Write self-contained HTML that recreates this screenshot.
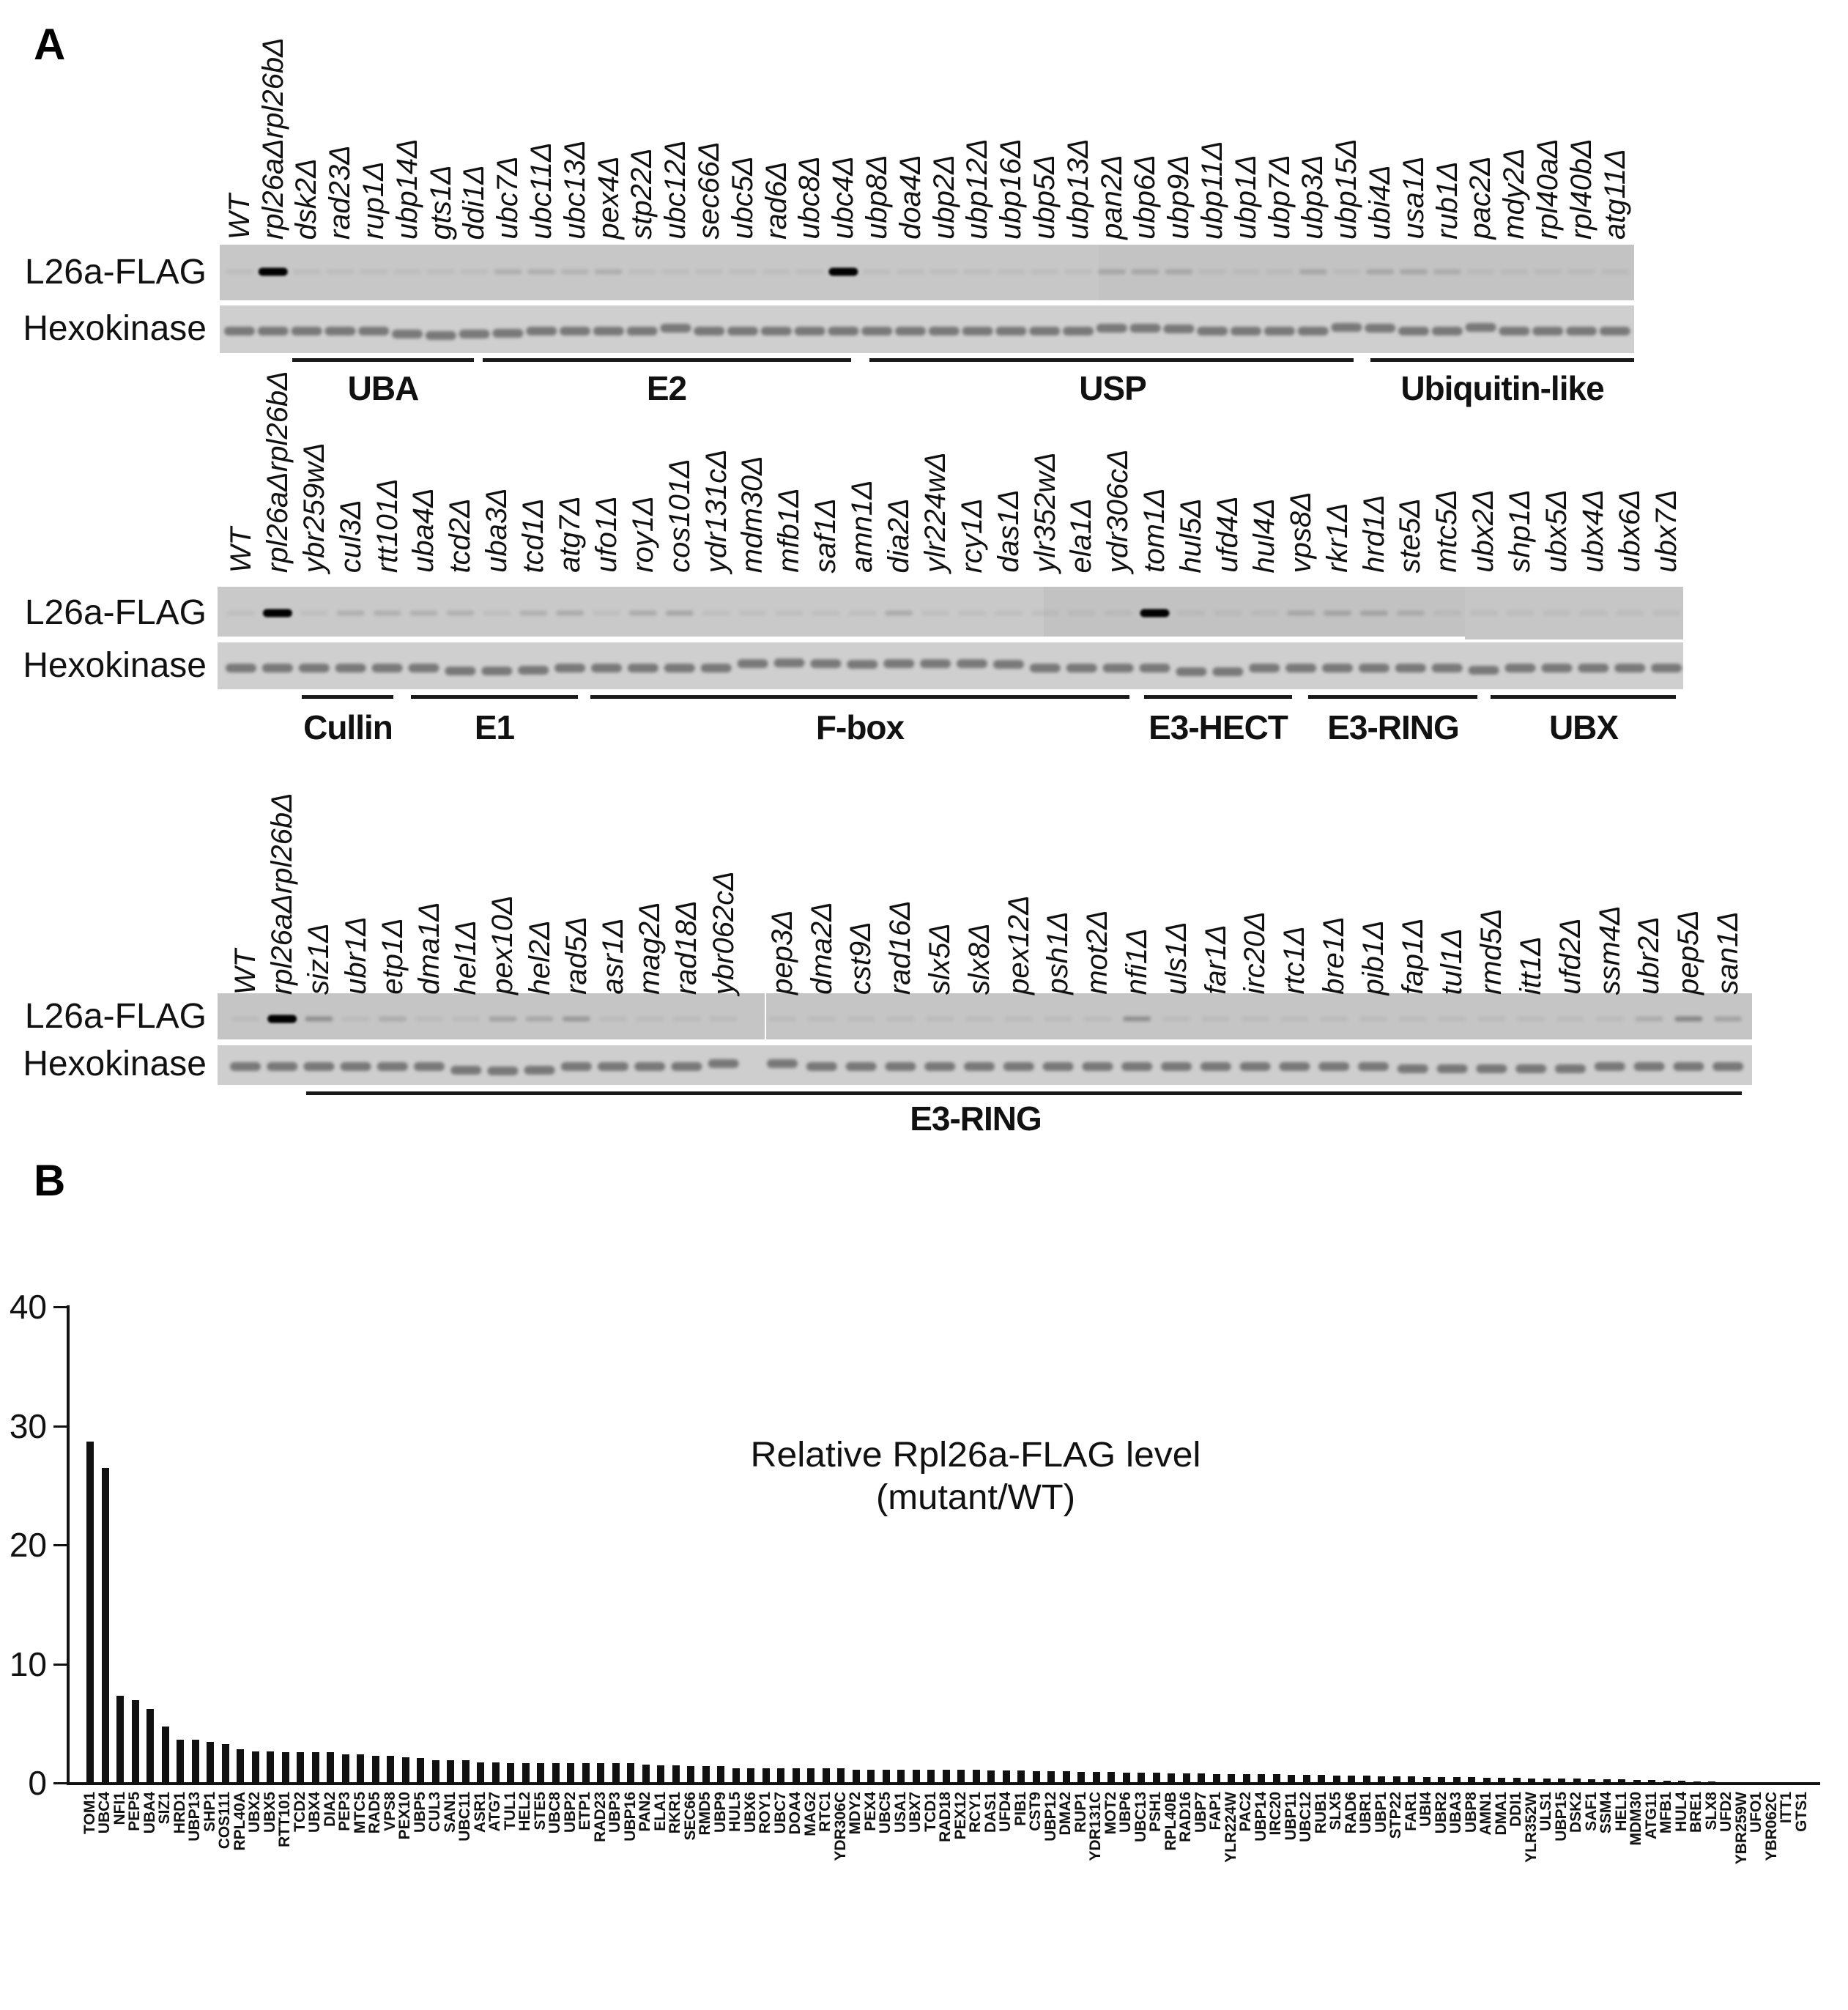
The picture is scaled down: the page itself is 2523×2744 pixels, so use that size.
<!DOCTYPE html>
<html><head><meta charset="utf-8">
<style>
html,body{margin:0;padding:0;background:#fff;}
body{width:2523px;height:2744px;position:relative;overflow:hidden;font-family:"Liberation Sans",Arial,sans-serif;}
.abs{position:absolute;}
.lanes{position:absolute;display:flex;align-items:flex-end;}
.lanes div{flex:none;display:flex;justify-content:center;align-items:flex-end;height:100%;}
.lanes span{writing-mode:vertical-rl;transform:rotate(180deg);font-style:italic;font-size:40px;line-height:40px;white-space:nowrap;color:#111;}
.side{position:absolute;font-size:48px;color:#111;text-align:right;width:262px;left:20px;line-height:50px;}
.grp{position:absolute;font-weight:bold;font-size:46px;color:#111;transform:translateX(-50%);white-space:nowrap;letter-spacing:-1px;}
.gl{position:absolute;height:5px;background:#1a1a1a;}
.big{position:absolute;font-weight:bold;font-size:60px;}
.bars{position:absolute;display:flex;align-items:flex-end;left:112.75px;top:1700px;height:735px;}
.bars div{flex:none;width:20.5px;display:flex;justify-content:center;align-items:flex-end;height:100%;}
.bars i{display:block;width:10px;background:#111;}
.blab{position:absolute;display:flex;align-items:flex-start;left:112.75px;top:2446px;height:150px;}
.blab div{flex:none;width:20.5px;display:flex;justify-content:center;align-items:flex-start;}
.blab span{writing-mode:vertical-rl;transform:rotate(180deg);font-weight:bold;font-size:21px;line-height:20.5px;white-space:nowrap;color:#111;}
.tick{position:absolute;left:73px;width:20px;height:3px;background:#111;}
.tl{position:absolute;font-size:46px;width:64px;text-align:right;left:0;color:#111;line-height:46px;}
</style></head><body>

<div class="big" style="left:46px;top:26px;">A</div>
<div class="big" style="left:46px;top:1577px;">B</div>

<svg class="abs" style="left:0;top:0" width="2523" height="1560" id="blots">
<defs>
<filter id="b1" x="-50%" y="-100%" width="200%" height="300%"><feGaussianBlur stdDeviation="2.2"/></filter>
<filter id="b2" x="-50%" y="-100%" width="200%" height="300%"><feGaussianBlur stdDeviation="1.5"/></filter>
</defs>
<rect x="300" y="334" width="1931" height="76" fill="#c7c7c7"/>
<rect x="1500" y="334" width="731" height="76" fill="#c3c3c3"/>
<rect x="300" y="417" width="1931" height="65" fill="#cfcfcf"/>
<rect x="297" y="801" width="1703" height="68" fill="#c9c9c9"/>
<rect x="1425" y="801" width="575" height="68" fill="#c2c2c2"/>
<rect x="2000" y="801" width="298" height="72" fill="#c6c6c6"/>
<rect x="297" y="877" width="2001" height="64" fill="#cfcfcf"/>
<rect x="297" y="1356" width="2095" height="63" fill="#c5c5c5"/>
<rect x="1044" y="1356" width="2" height="63" fill="#fff"/>
<rect x="297" y="1427" width="2095" height="54" fill="#cecece"/>
<g id="bands"></g>
</svg>

<div class="lanes" style="left:304px;top:30px;height:297px;">
<div style="width:45.8px"><span>WT</span></div><div style="width:45.8px"><span>rpl26aΔrpl26bΔ</span></div><div style="width:45.8px"><span>dsk2Δ</span></div><div style="width:45.8px"><span>rad23Δ</span></div><div style="width:45.8px"><span>rup1Δ</span></div><div style="width:45.8px"><span>ubp14Δ</span></div><div style="width:45.8px"><span>gts1Δ</span></div><div style="width:45.8px"><span>ddi1Δ</span></div><div style="width:45.8px"><span>ubc7Δ</span></div><div style="width:45.8px"><span>ubc11Δ</span></div><div style="width:45.8px"><span>ubc13Δ</span></div><div style="width:45.8px"><span>pex4Δ</span></div><div style="width:45.8px"><span>stp22Δ</span></div><div style="width:45.8px"><span>ubc12Δ</span></div><div style="width:45.8px"><span>sec66Δ</span></div><div style="width:45.8px"><span>ubc5Δ</span></div><div style="width:45.8px"><span>rad6Δ</span></div><div style="width:45.8px"><span>ubc8Δ</span></div><div style="width:45.8px"><span>ubc4Δ</span></div><div style="width:45.8px"><span>ubp8Δ</span></div><div style="width:45.8px"><span>doa4Δ</span></div><div style="width:45.8px"><span>ubp2Δ</span></div><div style="width:45.8px"><span>ubp12Δ</span></div><div style="width:45.8px"><span>ubp16Δ</span></div><div style="width:45.8px"><span>ubp5Δ</span></div><div style="width:45.8px"><span>ubp13Δ</span></div><div style="width:45.8px"><span>pan2Δ</span></div><div style="width:45.8px"><span>ubp6Δ</span></div><div style="width:45.8px"><span>ubp9Δ</span></div><div style="width:45.8px"><span>ubp11Δ</span></div><div style="width:45.8px"><span>ubp1Δ</span></div><div style="width:45.8px"><span>ubp7Δ</span></div><div style="width:45.8px"><span>ubp3Δ</span></div><div style="width:45.8px"><span>ubp15Δ</span></div><div style="width:45.8px"><span>ubi4Δ</span></div><div style="width:45.8px"><span>usa1Δ</span></div><div style="width:45.8px"><span>rub1Δ</span></div><div style="width:45.8px"><span>pac2Δ</span></div><div style="width:45.8px"><span>mdy2Δ</span></div><div style="width:45.8px"><span>rpl40aΔ</span></div><div style="width:45.8px"><span>rpl40bΔ</span></div><div style="width:45.8px"><span>atg11Δ</span></div>
</div>
<div class="side" style="top:347px;">L26a-FLAG</div>
<div class="side" style="top:424px;">Hexokinase</div>
<div class="gl" style="left:399px;top:489px;width:248px"></div>
<div class="gl" style="left:659px;top:489px;width:503px"></div>
<div class="gl" style="left:1187px;top:489px;width:661px"></div>
<div class="gl" style="left:1871px;top:489px;width:360px"></div>
<div class="grp" style="left:523px;top:503px;">UBA</div>
<div class="grp" style="left:910px;top:503px;">E2</div>
<div class="grp" style="left:1519px;top:503px;">USP</div>
<div class="grp" style="left:2051px;top:503px;">Ubiquitin-like</div>

<div class="lanes" style="left:304px;top:480px;height:302px;">
<div style="width:49.9px"><span>WT</span></div><div style="width:49.9px"><span>rpl26aΔrpl26bΔ</span></div><div style="width:49.9px"><span>ybr259wΔ</span></div><div style="width:49.9px"><span>cul3Δ</span></div><div style="width:49.9px"><span>rtt101Δ</span></div><div style="width:49.9px"><span>uba4Δ</span></div><div style="width:49.9px"><span>tcd2Δ</span></div><div style="width:49.9px"><span>uba3Δ</span></div><div style="width:49.9px"><span>tcd1Δ</span></div><div style="width:49.9px"><span>atg7Δ</span></div><div style="width:49.9px"><span>ufo1Δ</span></div><div style="width:49.9px"><span>roy1Δ</span></div><div style="width:49.9px"><span>cos101Δ</span></div><div style="width:49.9px"><span>ydr131cΔ</span></div><div style="width:49.9px"><span>mdm30Δ</span></div><div style="width:49.9px"><span>mfb1Δ</span></div><div style="width:49.9px"><span>saf1Δ</span></div><div style="width:49.9px"><span>amn1Δ</span></div><div style="width:49.9px"><span>dia2Δ</span></div><div style="width:49.9px"><span>ylr224wΔ</span></div><div style="width:49.9px"><span>rcy1Δ</span></div><div style="width:49.9px"><span>das1Δ</span></div><div style="width:49.9px"><span>ylr352wΔ</span></div><div style="width:49.9px"><span>ela1Δ</span></div><div style="width:49.9px"><span>ydr306cΔ</span></div><div style="width:49.9px"><span>tom1Δ</span></div><div style="width:49.9px"><span>hul5Δ</span></div><div style="width:49.9px"><span>ufd4Δ</span></div><div style="width:49.9px"><span>hul4Δ</span></div><div style="width:49.9px"><span>vps8Δ</span></div><div style="width:49.9px"><span>rkr1Δ</span></div><div style="width:49.9px"><span>hrd1Δ</span></div><div style="width:49.9px"><span>ste5Δ</span></div><div style="width:49.9px"><span>mtc5Δ</span></div><div style="width:49.9px"><span>ubx2Δ</span></div><div style="width:49.9px"><span>shp1Δ</span></div><div style="width:49.9px"><span>ubx5Δ</span></div><div style="width:49.9px"><span>ubx4Δ</span></div><div style="width:49.9px"><span>ubx6Δ</span></div><div style="width:49.9px"><span>ubx7Δ</span></div>
</div>
<div class="side" style="top:812px;">L26a-FLAG</div>
<div class="side" style="top:884px;">Hexokinase</div>
<div class="gl" style="left:412px;top:949px;width:125px"></div>
<div class="gl" style="left:561px;top:949px;width:228px"></div>
<div class="gl" style="left:806px;top:949px;width:736px"></div>
<div class="gl" style="left:1562px;top:949px;width:202px"></div>
<div class="gl" style="left:1786px;top:949px;width:231px"></div>
<div class="gl" style="left:2035px;top:949px;width:253px"></div>
<div class="grp" style="left:475px;top:966px;">Cullin</div>
<div class="grp" style="left:675px;top:966px;">E1</div>
<div class="grp" style="left:1174px;top:966px;">F-box</div>
<div class="grp" style="left:1663px;top:966px;">E3-HECT</div>
<div class="grp" style="left:1902px;top:966px;">E3-RING</div>
<div class="grp" style="left:2162px;top:966px;">UBX</div>

<div class="lanes" style="left:310px;top:1030px;height:328px;">
<div style="width:50.2px"><span>WT</span></div><div style="width:50.2px"><span>rpl26aΔrpl26bΔ</span></div><div style="width:50.2px"><span>siz1Δ</span></div><div style="width:50.2px"><span>ubr1Δ</span></div><div style="width:50.2px"><span>etp1Δ</span></div><div style="width:50.2px"><span>dma1Δ</span></div><div style="width:50.2px"><span>hel1Δ</span></div><div style="width:50.2px"><span>pex10Δ</span></div><div style="width:50.2px"><span>hel2Δ</span></div><div style="width:50.2px"><span>rad5Δ</span></div><div style="width:50.2px"><span>asr1Δ</span></div><div style="width:50.2px"><span>mag2Δ</span></div><div style="width:50.2px"><span>rad18Δ</span></div><div style="width:50.2px"><span>ybr062cΔ</span></div>
</div>
<div class="lanes" style="left:1041px;top:1030px;height:328px;">
<div style="width:53.8px"><span>pep3Δ</span></div><div style="width:53.8px"><span>dma2Δ</span></div><div style="width:53.8px"><span>cst9Δ</span></div><div style="width:53.8px"><span>rad16Δ</span></div><div style="width:53.8px"><span>slx5Δ</span></div><div style="width:53.8px"><span>slx8Δ</span></div><div style="width:53.8px"><span>pex12Δ</span></div><div style="width:53.8px"><span>psh1Δ</span></div><div style="width:53.8px"><span>mot2Δ</span></div><div style="width:53.8px"><span>nfi1Δ</span></div><div style="width:53.8px"><span>uls1Δ</span></div><div style="width:53.8px"><span>far1Δ</span></div><div style="width:53.8px"><span>irc20Δ</span></div><div style="width:53.8px"><span>rtc1Δ</span></div><div style="width:53.8px"><span>bre1Δ</span></div><div style="width:53.8px"><span>pib1Δ</span></div><div style="width:53.8px"><span>fap1Δ</span></div><div style="width:53.8px"><span>tul1Δ</span></div><div style="width:53.8px"><span>rmd5Δ</span></div><div style="width:53.8px"><span>itt1Δ</span></div><div style="width:53.8px"><span>ufd2Δ</span></div><div style="width:53.8px"><span>ssm4Δ</span></div><div style="width:53.8px"><span>ubr2Δ</span></div><div style="width:53.8px"><span>pep5Δ</span></div><div style="width:53.8px"><span>san1Δ</span></div>
</div>
<div class="side" style="top:1363px;">L26a-FLAG</div>
<div class="side" style="top:1428px;">Hexokinase</div>
<div class="gl" style="left:418px;top:1490px;width:1960px"></div>
<div class="grp" style="left:1332px;top:1500px;">E3-RING</div>

<div class="abs" style="left:91px;top:1782px;width:4px;height:655px;background:#111"></div>
<div class="abs" style="left:91px;top:2433px;width:2394px;height:4px;background:#111"></div>
<div class="tick" style="top:1783px"></div>
<div class="tick" style="top:1946px"></div>
<div class="tick" style="top:2108px"></div>
<div class="tick" style="top:2271px"></div>
<div class="tick" style="top:2433px"></div>
<div class="tl" style="top:1761px">40</div>
<div class="tl" style="top:1924px">30</div>
<div class="tl" style="top:2086px">20</div>
<div class="tl" style="top:2249px">10</div>
<div class="tl" style="top:2411px">0</div>

<svg class="abs" style="left:0;top:1940px" width="2523" height="140">
<text x="1332" y="62" text-anchor="middle" font-family="Liberation Sans, Arial, sans-serif" font-size="48" textLength="615" lengthAdjust="spacingAndGlyphs" fill="#111">Relative Rpl26a-FLAG level</text>
<text x="1332" y="120" text-anchor="middle" font-family="Liberation Sans, Arial, sans-serif" font-size="48" textLength="272" lengthAdjust="spacingAndGlyphs" fill="#111">(mutant/WT)</text>
</svg>

<div class="bars" id="bars"></div>

<div class="blab">
<div><span>TOM1</span></div><div><span>UBC4</span></div><div><span>NFI1</span></div><div><span>PEP5</span></div><div><span>UBA4</span></div><div><span>SIZ1</span></div><div><span>HRD1</span></div><div><span>UBP13</span></div><div><span>SHP1</span></div><div><span>COS111</span></div><div><span>RPL40A</span></div><div><span>UBX2</span></div><div><span>UBX5</span></div><div><span>RTT101</span></div><div><span>TCD2</span></div><div><span>UBX4</span></div><div><span>DIA2</span></div><div><span>PEP3</span></div><div><span>MTC5</span></div><div><span>RAD5</span></div><div><span>VPS8</span></div><div><span>PEX10</span></div><div><span>UBP5</span></div><div><span>CUL3</span></div><div><span>SAN1</span></div><div><span>UBC11</span></div><div><span>ASR1</span></div><div><span>ATG7</span></div><div><span>TUL1</span></div><div><span>HEL2</span></div><div><span>STE5</span></div><div><span>UBC8</span></div><div><span>UBP2</span></div><div><span>ETP1</span></div><div><span>RAD23</span></div><div><span>UBP3</span></div><div><span>UBP16</span></div><div><span>PAN2</span></div><div><span>ELA1</span></div><div><span>RKR1</span></div><div><span>SEC66</span></div><div><span>RMD5</span></div><div><span>UBP9</span></div><div><span>HUL5</span></div><div><span>UBX6</span></div><div><span>ROY1</span></div><div><span>UBC7</span></div><div><span>DOA4</span></div><div><span>MAG2</span></div><div><span>RTC1</span></div><div><span>YDR306C</span></div><div><span>MDY2</span></div><div><span>PEX4</span></div><div><span>UBC5</span></div><div><span>USA1</span></div><div><span>UBX7</span></div><div><span>TCD1</span></div><div><span>RAD18</span></div><div><span>PEX12</span></div><div><span>RCY1</span></div><div><span>DAS1</span></div><div><span>UFD4</span></div><div><span>PIB1</span></div><div><span>CST9</span></div><div><span>UBP12</span></div><div><span>DMA2</span></div><div><span>RUP1</span></div><div><span>YDR131C</span></div><div><span>MOT2</span></div><div><span>UBP6</span></div><div><span>UBC13</span></div><div><span>PSH1</span></div><div><span>RPL40B</span></div><div><span>RAD16</span></div><div><span>UBP7</span></div><div><span>FAP1</span></div><div><span>YLR224W</span></div><div><span>PAC2</span></div><div><span>UBP14</span></div><div><span>IRC20</span></div><div><span>UBP11</span></div><div><span>UBC12</span></div><div><span>RUB1</span></div><div><span>SLX5</span></div><div><span>RAD6</span></div><div><span>UBR1</span></div><div><span>UBP1</span></div><div><span>STP22</span></div><div><span>FAR1</span></div><div><span>UBI4</span></div><div><span>UBR2</span></div><div><span>UBA3</span></div><div><span>UBP8</span></div><div><span>AMN1</span></div><div><span>DMA1</span></div><div><span>DDI1</span></div><div><span>YLR352W</span></div><div><span>ULS1</span></div><div><span>UBP15</span></div><div><span>DSK2</span></div><div><span>SAF1</span></div><div><span>SSM4</span></div><div><span>HEL1</span></div><div><span>MDM30</span></div><div><span>ATG11</span></div><div><span>MFB1</span></div><div><span>HUL4</span></div><div><span>BRE1</span></div><div><span>SLX8</span></div><div><span>UFD2</span></div><div><span>YBR259W</span></div><div><span>UFO1</span></div><div><span>YBR062C</span></div><div><span>ITT1</span></div><div><span>GTS1</span></div>
</div>

<script>
(function(){
var vals=[28.7,26.5,7.4,7.0,6.3,4.8,3.7,3.7,3.5,3.3,2.9,2.7,2.7,2.65,2.65,2.65,2.65,2.45,2.45,2.35,2.35,2.2,2.15,2.0,2.0,1.95,1.8,1.8,1.75,1.75,1.75,1.75,1.75,1.75,1.75,1.7,1.7,1.6,1.55,1.55,1.45,1.45,1.45,1.3,1.3,1.3,1.3,1.3,1.3,1.3,1.3,1.2,1.2,1.2,1.2,1.2,1.2,1.15,1.15,1.15,1.1,1.1,1.1,1.05,1.05,1.05,1.0,1.0,1.0,0.95,0.9,0.9,0.88,0.86,0.85,0.83,0.82,0.8,0.8,0.78,0.76,0.75,0.72,0.7,0.68,0.66,0.64,0.62,0.6,0.58,0.56,0.55,0.53,0.52,0.5,0.48,0.46,0.45,0.43,0.42,0.4,0.38,0.36,0.34,0.3,0.27,0.24,0.2,0.17,0.14,0.1,0.07,0.05,0.04,0.03];
var b=document.getElementById('bars'),h='';
for(var i=0;i<vals.length;i++){h+='<div><i style="height:'+(vals[i]*16.275).toFixed(1)+'px"></i></div>';}
b.innerHTML=h;
var NS='http://www.w3.org/2000/svg',g=document.getElementById('bands');
function band(x,y,w,hh,col,op,f){var r=document.createElementNS(NS,'rect');r.setAttribute('x',x-w/2);r.setAttribute('y',y-hh/2);r.setAttribute('width',w);r.setAttribute('height',hh);r.setAttribute('rx',hh/2);r.setAttribute('fill',col);r.setAttribute('opacity',op);r.setAttribute('filter','url(#'+f+')');g.appendChild(r);}
function row(xs,fy,hy,flag,hexy){
 for(var i=0;i<xs.length;i++){
  var v=flag[i]||0.1;
  if(v>0.7){band(xs[i],fy,40,11,'#000',1,'b2');}
  else band(xs[i],fy,38,7,'#666',v,'b1');
  var dy=(hexy&&hexy[i])||0;
  band(xs[i],hy+dy,42,12,'#555',0.7,'b1');
 }
}
var x1=[],x2=[],x3=[];
for(var i=0;i<42;i++)x1.push(327+i*45.8);
for(var i=0;i<40;i++)x2.push(329+i*49.9);
for(var i=0;i<14;i++)x3.push(335+i*50.2);
for(var i=0;i<25;i++)x3.push(1068+i*53.8);
var f1={1:1,18:0.9,8:0.25,9:0.25,10:0.2,11:0.25,26:0.3,27:0.3,28:0.3,32:0.3,34:0.3,35:0.3,36:0.25};
var h1={5:4,6:6,7:4,8:3,13:-4,26:-4,27:-4,28:-3,33:-5,34:-4,37:-5};
row(x1,371,452,f1,h1);
var f2={1:1,25:1,3:0.25,4:0.25,5:0.25,6:0.25,8:0.25,9:0.3,11:0.3,12:0.35,18:0.3,29:0.3,30:0.35,31:0.35,32:0.25};
var h2={6:4,7:4,8:3,14:-6,15:-7,16:-6,17:-5,18:-6,19:-6,20:-6,21:-5,26:5,27:5,34:3};
row(x2,837,912,f2,h2);
var f3={1:1,2:0.55,7:0.35,8:0.3,9:0.45,23:0.55,37:0.65,38:0.35,4:0.25,36:0.25};
var h3={6:5,7:6,8:5,13:-4,14:-4,30:3,31:3,32:3,33:3,34:3};
row(x3,1391,1456,f3,h3);
})();
</script>
</body></html>
